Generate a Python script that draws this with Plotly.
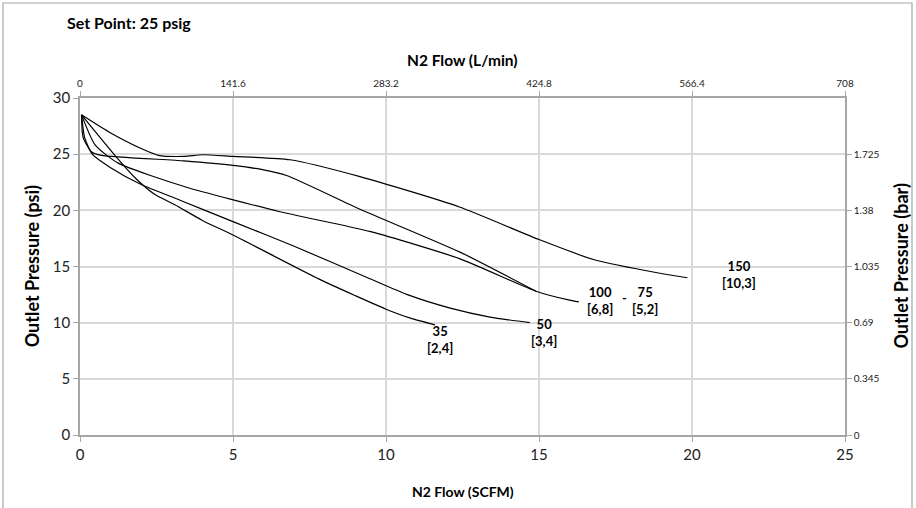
import plotly.graph_objects as go

# ---- data (SCFM vs psi) ----
x150 = [0.05, 0.93, 2.0, 2.56, 3.4, 4.0, 5.0, 6.86, 9.15, 12.4, 15.0, 16.8, 18.95, 19.85]
y150 = [28.5, 27.0, 25.5, 24.9, 24.8, 24.95, 24.8, 24.5, 23.0, 20.3, 17.4, 15.6, 14.4, 14.0]

x75 = [0.05, 0.1, 0.38, 0.7, 3.4, 5.0, 6.0, 6.75, 9.15, 12.4, 14.9]
y75 = [28.5, 26.5, 25.2, 24.9, 24.4, 24.0, 23.6, 23.1, 20.1, 16.3, 12.8]

x100 = [0.05, 0.5, 1.25, 3.43, 6.5, 9.5, 12.4, 14.9, 16.0, 16.3]
y100 = [28.5, 25.8, 24.2, 22.1, 19.9, 18.1, 15.7, 12.8, 12.0, 11.85]

x50 = [0.05, 0.15, 0.4, 1.0, 2.0, 3.27, 5.0, 7.0, 9.4, 10.7, 12.1, 13.4, 14.7]
y50 = [28.5, 26.5, 25.0, 23.8, 22.3, 20.9, 19.0, 16.8, 14.0, 12.5, 11.3, 10.5, 10.0]

x35 = [0.05, 1.14, 1.8, 2.45, 3.1, 4.0, 5.0, 7.8, 9.0, 10.0, 10.8, 11.6]
y35 = [28.5, 24.9, 22.9, 21.4, 20.5, 19.1, 17.8, 13.9, 12.4, 11.2, 10.4, 9.8]

series_x = [x150, x75, x100, x50, x35]
series_y = [y150, y75, y100, y50, y35]

# labels: text lines and positions (data coords)
label_top = ["150", "100", "-", "75", "50", "35"]
label_bot = ["[10,3]", "[6,8]", "", "[5,2]", "[3,4]", "[2,4]"]
label_x = [21.55, 17.0, 17.8, 18.45, 15.15, 11.75]
label_y = [14.25, 12.0, 12.2, 12.0, 9.1, 8.5]

top_ticks = [0, 141.6, 283.2, 424.8, 566.4, 708]
top_text = ["0", "141.6", "283.2", "424.8", "566.4", "708"]
right_ticks = [0, 0.345, 0.69, 1.035, 1.38, 1.725]
right_text = ["0", "0.345", "0.69", "1.035", "1.38", "1.725"]

FONT = "Lato"
GRID = "#d9d9d9"
AX = "#a6a6a6"

fig = go.Figure()
for xs, ys in zip(series_x, series_y):
    fig.add_trace(go.Scatter(x=xs, y=ys, mode="lines",
                             line=dict(color="black", width=1.2, shape="spline", smoothing=0.6),
                             showlegend=False, hoverinfo="skip"))

# invisible trace to activate secondary axes
fig.add_trace(go.Scatter(x=[top_ticks[0], top_ticks[-1]], y=[right_ticks[0], 2.07],
                         xaxis="x2", yaxis="y2", mode="markers",
                         marker=dict(opacity=0), showlegend=False, hoverinfo="skip"))

for t, b, lx, ly in zip(label_top, label_bot, label_x, label_y):
    txt = "<b>%s</b>" % t if not b else "<b>%s</b><br><b>%s</b>" % (t, b)
    fig.add_annotation(x=lx, y=ly, xref="x", yref="y", text=txt, showarrow=False,
                       font=dict(family=FONT, size=13, color="black"), align="center")

fig.update_layout(
    width=916, height=508,
    margin=dict(l=80, r=71, t=98, b=73),
    paper_bgcolor="white", plot_bgcolor="white",
    font=dict(family=FONT, color="#222"),
    xaxis=dict(range=[0, 25], dtick=5, showgrid=True, gridcolor=GRID, gridwidth=1.5,
               showline=True, linecolor=AX, linewidth=1.5, ticks="outside", ticklen=5,
               tickcolor=AX, tickfont=dict(size=15, family=FONT, color="#222"), zeroline=False),
    xaxis2=dict(range=[0, 708], overlaying="x", side="top", tickvals=top_ticks, ticktext=top_text,
                showgrid=False, showline=True, linecolor=AX, linewidth=1.5, ticks="outside",
                ticklen=5, tickcolor=AX, tickfont=dict(size=10, family=FONT, color="#222"),
                zeroline=False),
    yaxis=dict(range=[0, 30], dtick=5, showgrid=True, gridcolor=GRID, gridwidth=1.5,
               showline=True, linecolor=AX, linewidth=1.5, ticks="outside", ticklen=5,
               tickcolor=AX, tickfont=dict(size=15, family=FONT, color="#222"), zeroline=False),
    yaxis2=dict(range=[0, 2.07], overlaying="y", side="right", tickvals=right_ticks,
                ticktext=right_text, showgrid=False, showline=True, linecolor=AX, linewidth=1.5,
                ticks="outside", ticklen=5, tickcolor=AX,
                tickfont=dict(size=10, family=FONT, color="#222"), zeroline=False),
)

titles = [
    ("<b>Outlet Pressure (psi)</b>", -0.063, 0.5, -90, 18),
    ("<b>Outlet Pressure (bar)</b>", 1.072, 0.5, -90, 18),
    ("<b>N2 Flow (SCFM)</b>", 0.5, -0.169, 0, 14),
    ("<b>N2 Flow (L/min)</b>", 0.5, 1.113, 0, 15.5),
]
for txt, px, py, ang, sz in titles:
    fig.add_annotation(x=px, y=py, xref="paper", yref="paper", text=txt, showarrow=False,
                       textangle=ang, font=dict(family=FONT, size=sz, color="black"),
                       xanchor="center", yanchor="middle")

fig.add_annotation(x=-0.0196, y=1.2255, xref="paper", yref="paper",
                   text="<b>Set Point: 25 psig</b>", showarrow=False, xanchor="left",
                   yanchor="middle", font=dict(family=FONT, size=16, color="black"))

# outer chart border
fig.add_shape(type="rect", xref="paper", yref="paper",
              x0=(3 - 80) / 765, x1=(912 - 80) / 765, y0=(435 - 510) / 337, y1=(435 - 3) / 337,
              line=dict(color=AX, width=1.2), layer="below")

fig.write_html("out.html", config={"displayModeBar": False},
               post_script="document.body.style.margin='0px';")
